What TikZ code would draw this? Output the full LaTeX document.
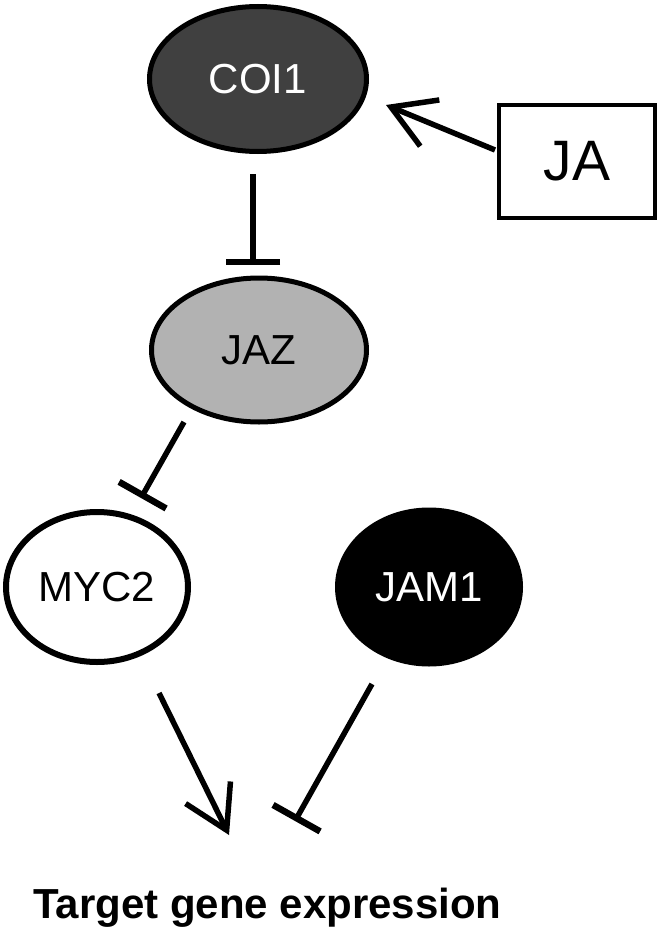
\documentclass[tikz,border=0pt]{standalone}
\usepackage{fontspec}
\setmainfont{Liberation Sans}
\usetikzlibrary{arrows.meta,shapes.geometric}
\definecolor{coiGray}{RGB}{64,64,64}
\definecolor{jazGray}{RGB}{178,178,178}
\begin{document}
\begin{tikzpicture}[x=1pt,y=-1pt,
  oval/.style={ellipse, draw=black, line width=5pt, inner sep=0pt, font=\fontsize{42}{50}\selectfont},
  act/.style={line width=5.5pt, -{Straight Barb[length=42pt,width=50pt]}},
  inh/.style={line width=5.5pt, -{Bar[width=54pt,line width=6.5pt]}},
]
\useasboundingbox (0,0) rectangle (664,931);
\node[oval, fill=coiGray, text=white, minimum width=217pt, minimum height=145pt] (COI1) at (258,79) {COI1};
\node[oval, fill=jazGray, minimum width=215pt, minimum height=144pt] (JAZ) at (259,350) {JAZ};
\node[oval, fill=white, line width=6pt, minimum width=182pt, minimum height=150pt] (MYC2) at (97,587) {MYC2};
\node[oval, fill=black, text=white, minimum width=183pt, minimum height=154pt] (JAM1) at (429,587) {JAM1};
\node[rectangle, draw=black, line width=4pt, minimum width=156pt, minimum height=113pt, inner sep=0pt, font=\fontsize{57}{64}\selectfont] (JA) at (577,161.5) {JA};
\node[anchor=base, inner sep=0pt, font=\bfseries\fontsize{42}{50}\selectfont] (target) at (267.5,918) {Target gene expression};

\coordinate (jaS) at (495,150);   \coordinate (jaE) at (386,105);
\coordinate (coiS) at (253,174);  \coordinate (coiE) at (253,265);
\coordinate (jazS) at (184,422);  \coordinate (jazE) at (141,498);
\coordinate (mycS) at (159,693);  \coordinate (mycE) at (229,835);
\coordinate (jamS) at (372,684);  \coordinate (jamE) at (295,821);

\draw[act] (jaS) -- (jaE);
\draw[inh] (coiS) -- (coiE);
\draw[inh] (jazS) -- (jazE);
\draw[act] (mycS) -- (mycE);
\draw[inh] (jamS) -- (jamE);
\end{tikzpicture}
\end{document}
